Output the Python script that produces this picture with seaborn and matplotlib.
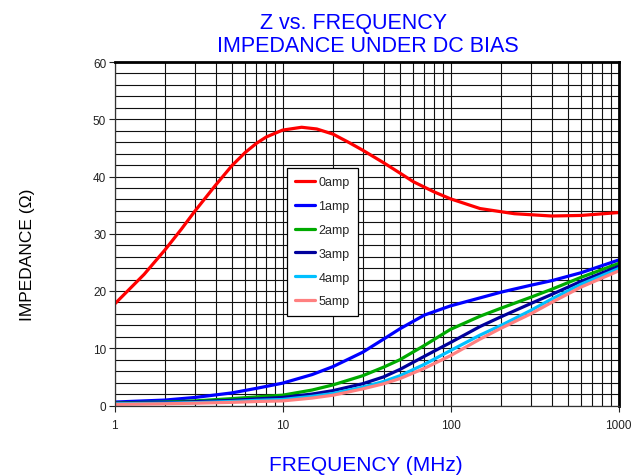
import numpy as np
import pandas as pd
import matplotlib
matplotlib.use("Agg")
import matplotlib.pyplot as plt
from matplotlib.ticker import LogLocator, MultipleLocator, FixedLocator, NullFormatter
import seaborn as sns

# ---------------- data ----------------
freq_0amp = [1, 1.5, 2, 2.5, 3, 4, 5, 6, 7, 8, 10, 13, 16, 20, 25, 30, 40, 50, 60, 80, 100, 150, 240, 400, 600, 1000]
z_0amp = [17.7, 22.9, 27.2, 30.8, 33.9, 38.5, 41.9, 44.2, 45.8, 46.9, 48.1, 48.6, 48.3, 47.4, 45.9, 44.6, 42.4, 40.6, 39.1, 37.3, 36.1, 34.4, 33.5, 33.1, 33.2, 33.7]

freq = [1, 2, 3, 5, 7, 10, 15, 20, 30, 40, 50, 70, 100, 150, 200, 300, 400, 600, 1000]
z_1amp = [0.6, 0.95, 1.4, 2.2, 3.0, 3.9, 5.4, 6.8, 9.3, 11.6, 13.4, 15.8, 17.4, 18.8, 19.8, 21.0, 21.8, 23.2, 25.4]
z_2amp = [0.45, 0.6, 0.8, 1.2, 1.5, 1.8, 2.7, 3.6, 5.2, 6.7, 8.0, 10.5, 13.3, 15.6, 17.0, 18.9, 20.3, 22.4, 24.8]
z_3amp = [0.4, 0.5, 0.65, 0.9, 1.15, 1.4, 2.0, 2.6, 3.8, 5.0, 6.3, 8.6, 11.0, 13.8, 15.5, 17.8, 19.4, 21.7, 24.3]
z_4amp = [0.3, 0.4, 0.5, 0.7, 0.9, 1.05, 1.6, 2.1, 3.2, 4.2, 5.2, 7.2, 9.6, 12.3, 14.0, 16.6, 18.6, 21.2, 23.9]
z_5amp = [0.2, 0.3, 0.4, 0.55, 0.7, 0.8, 1.3, 1.8, 2.9, 3.8, 4.7, 6.5, 8.7, 11.6, 13.5, 16.0, 18.0, 20.7, 23.5]

series_names = ["0amp", "1amp", "2amp", "3amp", "4amp", "5amp"]
series_colors = ["#FF0000", "#0000FF", "#00AA00", "#00009C", "#00C0FF", "#FF8080"]

y_ticks = [0, 10, 20, 30, 40, 50, 60]
x_ticks = [1, 10, 100, 1000]
x_tick_labels = ["1", "10", "100", "1000"]

title_line1 = "Z vs. FREQUENCY"
title_line2 = "IMPEDANCE UNDER DC BIAS"
x_label = "FREQUENCY (MHz)"
y_label = "IMPEDANCE (\u03a9)"

# ---------------- build long table ----------------
frames = [pd.DataFrame({"f": freq_0amp, "z": z_0amp, "bias": "0amp"})]
for name, vals in zip(series_names[1:], [z_1amp, z_2amp, z_3amp, z_4amp, z_5amp]):
    frames.append(pd.DataFrame({"f": freq, "z": vals, "bias": name}))
df = pd.concat(frames, ignore_index=True)

# ---------------- style ----------------
sns.set_style("white")
plt.rcParams["font.family"] = ["Liberation Sans", "DejaVu Sans"]

fig = plt.figure(figsize=(6.33, 4.77), dpi=100)
ax = fig.add_axes([114.5 / 633, 1 - 406.5 / 477, (618.5 - 114.5) / 633, (406.5 - 63) / 477])

palette = dict(zip(series_names, series_colors))
sns.lineplot(data=df, x="f", y="z", hue="bias", hue_order=series_names, palette=palette,
             estimator=None, linewidth=2.3, ax=ax, legend=True)

ax.set_xscale("log")
ax.set_xlim(1, 1000)
ax.set_ylim(0, 60)

# grid
ax.xaxis.set_major_locator(FixedLocator(x_ticks))
ax.xaxis.set_minor_locator(LogLocator(base=10, subs=np.arange(2, 10)))
ax.xaxis.set_minor_formatter(NullFormatter())
ax.set_xticklabels(x_tick_labels)
ax.yaxis.set_major_locator(FixedLocator(y_ticks))
ax.yaxis.set_minor_locator(MultipleLocator(2))
ax.grid(True, which="both", axis="both", color="#111111", linewidth=0.8)
ax.set_axisbelow(True)

ax.tick_params(axis="y", which="major", direction="out", length=4, width=0.8,
               labelsize=8.5, pad=2, colors="#222222", left=True)
ax.tick_params(axis="y", which="minor", length=0)
ax.tick_params(axis="x", which="major", direction="out", length=4, width=0.8,
               labelsize=8.5, pad=6, colors="#222222", bottom=True)
ax.tick_params(axis="x", which="minor", length=0)

for side in ["top", "right"]:
    ax.spines[side].set_linewidth(2.0)
    ax.spines[side].set_color("black")
for side in ["left", "bottom"]:
    ax.spines[side].set_linewidth(0.9)
    ax.spines[side].set_color("#333333")

ax.set_xlabel("")
ax.set_ylabel("")

# legend
handles, labels = ax.get_legend_handles_labels()
leg = ax.legend(handles, labels, loc="upper left",
                bbox_to_anchor=(287 / 633, 1 - 169 / 477), bbox_transform=fig.transFigure,
                frameon=True, fancybox=False, edgecolor="black", framealpha=1,
                fontsize=9, handlelength=1.6, handletextpad=0.25, labelspacing=0.95,
                borderpad=0.65, borderaxespad=0)
leg.get_frame().set_linewidth(0.9)
for line in leg.get_lines():
    line.set_linewidth(2.3)

# texts
fig.text(354 / 633, 1 - 24 / 477, title_line1, ha="center", va="center",
         color="#0000FF", fontsize=15.5)
fig.text(367.5 / 633, 1 - 47 / 477, title_line2, ha="center", va="center",
         color="#0000FF", fontsize=15.5)
fig.text(366 / 633, 1 - 466 / 477, x_label, ha="center", va="center",
         color="#0000FF", fontsize=15)
fig.text(28 / 633, 1 - 255 / 477, y_label, ha="center", va="center", rotation=90,
         color="black", fontsize=12.5)

fig.savefig("out.png", dpi=100)
